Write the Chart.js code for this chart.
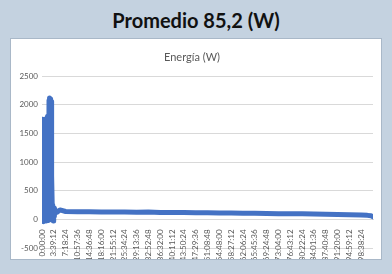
<!DOCTYPE html>
<html>
<head>
<meta charset="utf-8">
<script src="https://cdn.jsdelivr.net/npm/chart.js@4.4.1/dist/chart.umd.min.js"></script>
<style>
  html, body { margin: 0; padding: 0; }
  body { width: 392px; height: 274px; background: #c4d2e0; position: relative; overflow: hidden; }
  #title { position: absolute; left: 0; top: 8px; width: 392px; text-align: center;
           font-family: Lato, "Open Sans", sans-serif; font-weight: 700; font-size: 20px; color: #111; }
  #panel { position: absolute; left: 10px; top: 38px; width: 370px; height: 220px;
           background: #fff; border: 1px solid #a9b8c8; }
  canvas { display: block; }
</style>
</head>
<body>
<div id="title">Promedio 85,2 (W)</div>
<div id="panel"><canvas id="c" width="370" height="220"></canvas></div>
<script>
// Tick labels (every 3:39:12 = 13152 s)
const tickLabels = ["0:00:00","3:39:12","7:18:24","10:57:36","14:36:48","18:16:00","21:55:12","25:34:24",
  "29:13:36","32:52:48","36:32:00","40:11:12","43:50:24","47:29:36","51:08:48","54:48:00","58:27:12",
  "62:06:24","65:45:36","69:24:48","73:04:00","76:43:12","80:22:24","84:01:36","87:40:48","91:20:00",
  "94:59:12","98:38:24"];
const tickStepSeconds = 13152;

// Start-up spikes (seconds, watts)
const spikeTimes = [0,200,400,600,800,1000,1200,1400,1600,1800,2000,2200,2400,2600,2800,3000,3200,3400,
  3600,3800,4000,4200,4400,4600,4800,5000,5200,5400,5600,5800,6000,6200,6400,6600,6800,7000,7200,7400,
  7600,7800,8000,8200,8400,8600,8800,9000,9200,9400,9600,9800,10000,10200,10400,10600,10800,11000,
  11400,11800,12200,12600,13000,13400,13800,14500,15500,17000];
const spikeWatts = [20,1720,-30,1750,60,1640,10,1700,200,1500,-40,1680,120,1750,30,1300,-20,1600,
  80,1720,0,1450,150,1690,-30,1200,40,900,300,1100,60,1780,0,1800,250,1650,-20,1820,
  90,2080,30,2120,-10,2050,120,1950,40,2100,0,1900,160,2060,30,1700,80,760,
  220,40,250,-30,180,60,200,150,130,125];

// Steady consumption afterwards (seconds, watts)
const steadyTimes = [20000,26300,39456,52608,65760,78912,92064,105216,118368,131520,144672,157824,
  170976,184128,197280,210432,223584,236736,249888,263040,276192,289344,302496,315648,328800,
  341952,355104,362000,366000,368256];
const steadyWatts = [165,138,135,132,130,128,127,125,128,122,120,118,117,115,113,110,108,106,104,
  100,98,96,92,90,86,82,78,70,62,45];

const yTicks = [-500, 0, 500, 1000, 1500, 2000, 2500];

const times = spikeTimes.concat(steadyTimes);
const watts = spikeWatts.concat(steadyWatts);
const points = times.map((t, i) => ({ x: t, y: watts[i] }));

new Chart(document.getElementById('c'), {
  type: 'line',
  data: {
    datasets: [{
      data: points,
      borderColor: '#4472c4',
      backgroundColor: '#4472c4',
      borderWidth: 5,
      pointRadius: 0,
      tension: 0,
      borderJoinStyle: 'round',
      borderCapStyle: 'round',
      fill: false
    }]
  },
  options: {
    responsive: false,
    devicePixelRatio: 1,
    animation: false,
    layout: { padding: { left: 0, right: 8, top: 0, bottom: 11 } },
    plugins: {
      legend: { display: false },
      tooltip: { enabled: false },
      title: {
        display: true,
        text: 'Energía (W)',
        color: '#595959',
        font: { family: 'Lato, "Open Sans", sans-serif', size: 11, weight: 'normal' },
        padding: { top: 12, bottom: 12 }
      }
    },
    scales: {
      x: {
        type: 'linear',
        position: { y: 0 },
        min: 0,
        max: tickStepSeconds * tickLabels.length,
        afterBuildTicks: s => { s.ticks = tickLabels.map((_, i) => ({ value: i * tickStepSeconds })); },
        ticks: {
          autoSkip: false, maxRotation: 90, minRotation: 90,
          color: '#595959', font: { family: 'Lato, sans-serif', size: 8 }, padding: 2,
          callback: (v, i) => tickLabels[i]
        },
        grid: { display: false },
        border: { display: true, color: '#d9d9d9' }
      },
      y: {
        min: yTicks[0],
        max: yTicks[yTicks.length - 1],
        afterBuildTicks: s => { s.ticks = yTicks.map(v => ({ value: v })); },
        afterFit: s => { s.width = 31; },
        ticks: { color: '#595959', font: { family: 'Lato, sans-serif', size: 8 }, padding: 4,
                 callback: v => String(v) },
        grid: { color: '#d9d9d9', drawTicks: false },
        border: { display: false }
      }
    }
  }
});
</script>
</body>
</html>
